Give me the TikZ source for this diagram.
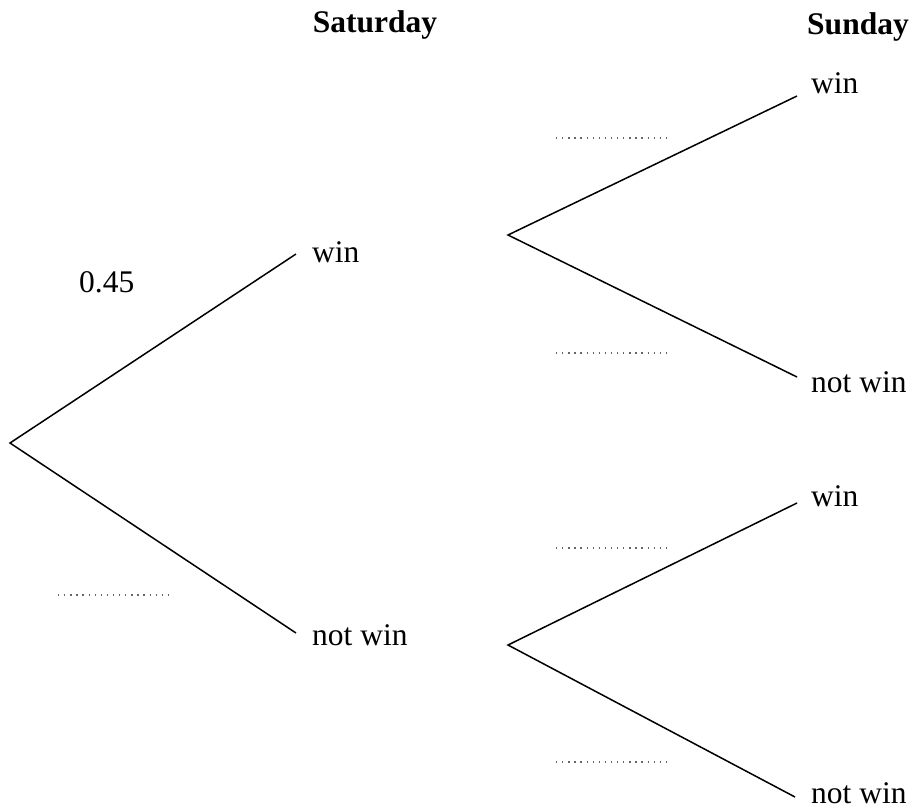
\documentclass[tikz,border=0pt]{standalone}
\usepackage{fontspec}
\setmainfont{Liberation Serif}
\begin{document}
\begin{tikzpicture}[x=1pt,y=1pt,
  branch/.style={line width=1.5pt, black},
  blank/.style={line width=1.4pt, black!60, dash pattern=on 1.3pt off 4.8pt},
  lab/.style={font=\fontsize{31.5}{36}\selectfont, inner sep=0pt, anchor=base west},
  head/.style={font=\fontsize{31.5}{36}\selectfont\bfseries, inner sep=0pt, anchor=base}]
\useasboundingbox (0,0) rectangle (915,-807);
% branching points and line ends
\coordinate (r) at (10,-443);
\coordinate (sw) at (296,-254);
\coordinate (snw) at (296,-633);
\coordinate (ur) at (508,-235);
\coordinate (uw) at (797,-96);
\coordinate (unw) at (797,-377);
\coordinate (lr) at (508,-645);
\coordinate (lw) at (797,-503);
\coordinate (lnw) at (795,-797);
% branches
\draw[branch] (sw) -- (r) -- (snw);
\draw[branch] (uw) -- (ur) -- (unw);
\draw[branch] (lw) -- (lr) -- (lnw);
% headings
\node[head] (sat) at (375,-32) {Saturday};
\node[head] (sun) at (858,-34) {Sunday};
% outcome labels
\node[lab] (tsw) at (312,-262) {win};
\node[lab] (tsnw) at (312,-645) {not win};
\node[lab] (tuw) at (811,-93) {win};
\node[lab] (tunw) at (811,-392) {not win};
\node[lab] (tlw) at (811,-506) {win};
\node[lab] (tlnw) at (811,-803) {not win};
% probabilities
\node[lab] (p) at (79,-292) {0.45};
\coordinate (b1a) at (58,-595); \coordinate (b1b) at (168,-595);
\coordinate (b2a) at (556,-138); \coordinate (b2b) at (666,-138);
\coordinate (b3a) at (556,-353); \coordinate (b3b) at (666,-353);
\coordinate (b4a) at (556,-548); \coordinate (b4b) at (666,-548);
\coordinate (b5a) at (556,-762); \coordinate (b5b) at (666,-762);
\draw[blank] (b1a) -- (b1b);
\draw[blank] (b2a) -- (b2b);
\draw[blank] (b3a) -- (b3b);
\draw[blank] (b4a) -- (b4b);
\draw[blank] (b5a) -- (b5b);
\end{tikzpicture}
\end{document}
